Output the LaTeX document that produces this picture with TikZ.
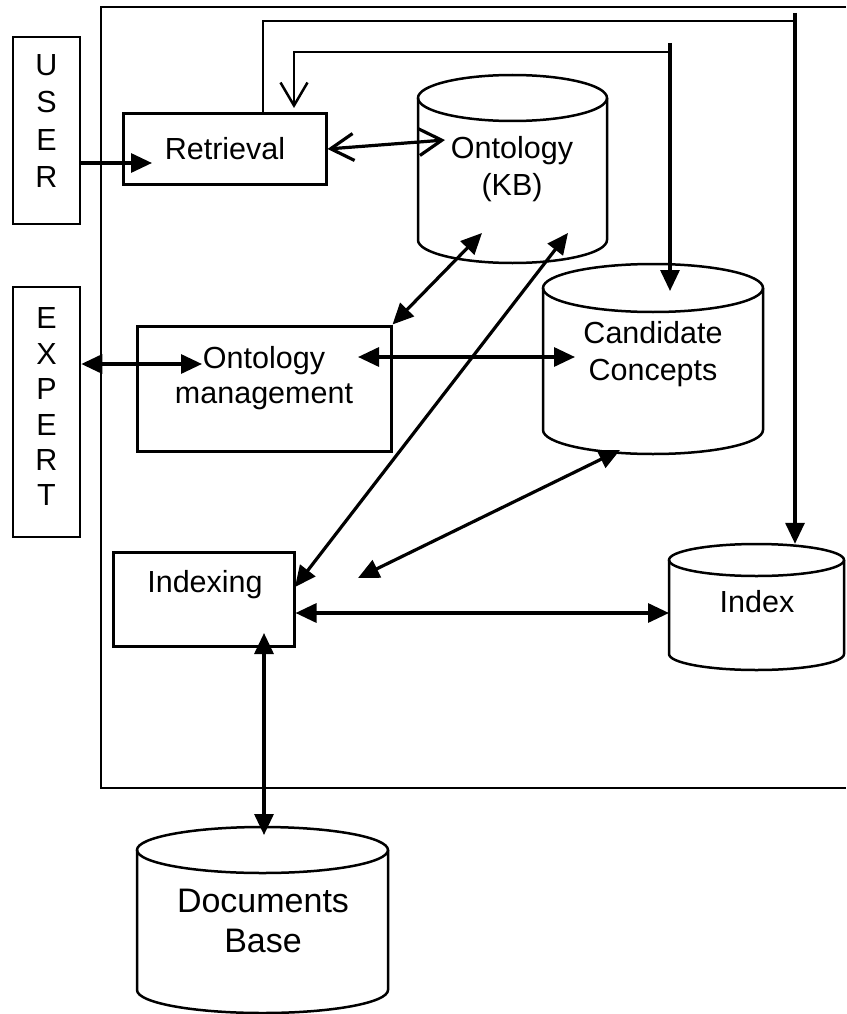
\documentclass[tikz,border=0pt]{standalone}
\usepackage{fontspec}
\setmainfont{Liberation Sans}
\usetikzlibrary{arrows.meta}
\tikzset{
  tri/.tip={Triangle[length=21pt,width=19pt]},
  barb/.tip={Straight Barb[length=23pt,width=27pt]},
}
\newcommand{\mycyl}[6]{% name, xl, xr, ytop-center, ybot-center, ry
  \pgfmathsetmacro{\cx}{(#2+#3)/2}
  \pgfmathsetmacro{\rx}{(#3-#2)/2}
  \draw[cylst] (#2,#4) -- (#2,#5) arc[start angle=180,end angle=360,x radius=\rx pt,y radius=#6pt] -- (#3,#4);
  \draw[cylst] (\cx,#4) ellipse[x radius=\rx pt,y radius=#6pt];
  \pgfmathsetmacro{\cy}{(#4+#5)/2}
  \pgfmathsetmacro{\hh}{#5-#4+2*#6}
  \pgfmathsetmacro{\ww}{#3-#2}
  \node[inner sep=0pt,minimum width=\ww pt,minimum height=\hh pt] (#1) at (\cx,\cy) {};
}
\begin{document}
\begin{tikzpicture}[x=1pt,y=-1pt,
  box/.style={draw,line width=3pt,inner sep=0pt},
  thinbox/.style={draw,line width=2.6pt,inner sep=0pt},
  cylst/.style={line width=2.5pt},
  frame/.style={line width=2.2pt},
  conn/.style={line width=3.2pt},
  topline/.style={line width=2.5pt},
  lbl/.style={font=\fontsize{30.5}{37}\selectfont,align=center,inner sep=0pt},
]
\useasboundingbox (0,0) rectangle (846,1014);

% outer frame (open to the right)
\draw[frame] (846,7) -- (101,7) -- (101,788) -- (846,788);

% actors
\node[thinbox,minimum width=67pt,minimum height=187pt] (user) at (46.5,130.5) {};
\node[lbl,font=\fontsize{30.5}{37.3}\selectfont] (userT) at (46.5,121) {U\\S\\E\\R};
\node[thinbox,minimum width=67pt,minimum height=250pt] (expert) at (46.5,412) {};
\node[lbl,font=\fontsize{30.5}{35.4}\selectfont] (expertT) at (46.5,407) {E\\X\\P\\E\\R\\T};

% process boxes
\node[box,minimum width=203pt,minimum height=70pt] (retrieval) at (224.5,149) {};
\node[lbl] (retrievalT) at (225,149) {Retrieval};
\node[box,minimum width=254pt,minimum height=125pt] (ontmgmt) at (264,388.5) {};
\node[lbl,font=\fontsize{30.5}{35}\selectfont] (ontmgmtT) at (264,378) {Ontology\\management};
\node[box,minimum width=181pt,minimum height=94pt] (indexing) at (203.5,599) {};
\node[lbl] (indexingT) at (205,585) {Indexing};

% stores
\mycyl{onto}{418}{607}{98}{240}{23}
\node[lbl] (ontoT) at (512,169) {Ontology\\(KB)};
\mycyl{cand}{543}{763}{288}{430}{24}
\node[lbl] (candT) at (653,354) {Candidate\\Concepts};
\mycyl{index}{669}{844}{560}{654}{16}
\node[lbl] (indexT) at (757,602) {Index};
\mycyl{docs}{137}{388}{850}{990}{23}
\node[lbl,font=\fontsize{34}{40}\selectfont] (docsT) at (263,921) {Documents\\Base};

% connector end points
\coordinate (uR) at (152,163);
\coordinate (rt) at (263,114);
\coordinate (topR) at (795,21);
\coordinate (topS) at (795,13);
\coordinate (sTop) at (670,43);
\coordinate (sBend) at (670,52);
\coordinate (sTip) at (670,291);
\coordinate (rIn) at (294,108);
\coordinate (ontoR) at (445,140);
\coordinate (ontoB1) at (482,233);
\coordinate (ontoB2) at (568,233);
\coordinate (idxIn) at (295,587);
\coordinate (eR) at (202,364);
\coordinate (omL) at (358,357);
\coordinate (candL) at (575,357);
\coordinate (candB) at (620,450);
\coordinate (freeEnd) at (358,578);
\coordinate (ixL) at (669,613);
\coordinate (idxB) at (264,633);
\coordinate (docsT0) at (264,835);

% connectors
\draw[conn,-tri] (user.east |- uR) -- (uR);
\draw[conn,barb-barb] (retrieval.east) -- (ontoR);
\draw[topline] (rt) |- (topR);
\draw[conn,-tri] (topS) -- (topS |- index.north);
\draw[topline,barb-] (rIn) |- (sBend);
\draw[conn,-tri] (sTop) -- (sTip);
\draw[conn,tri-tri] (ontoB1) -- (ontmgmt.north east);
\draw[conn,tri-tri] (ontoB2) -- (idxIn);
\draw[conn,tri-tri] (expert.east |- eR) -- (eR);
\draw[conn,tri-tri] (omL) -- (candL);
\draw[conn,tri-tri] (candB) -- (freeEnd);
\draw[conn,tri-tri] (indexing.east |- ixL) -- (ixL);
\draw[conn,tri-tri] (idxB) -- (docsT0);
\end{tikzpicture}
\end{document}
